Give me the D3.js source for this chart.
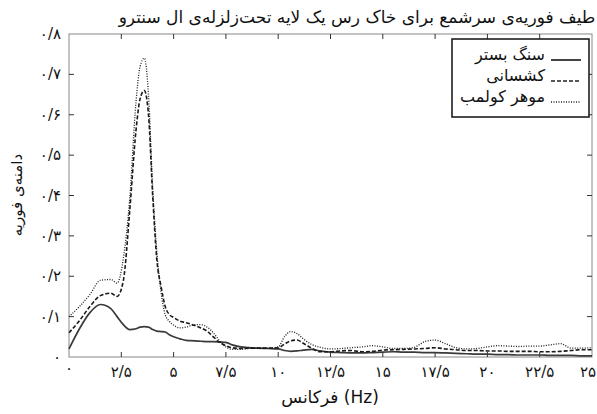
<!DOCTYPE html>
<html>
<head>
<meta charset="utf-8">
<script src="https://cdn.jsdelivr.net/npm/d3@7"></script>
<style>
  html, body { margin: 0; padding: 0; background: #fff; }
  svg { display: block; }
  .fa { font-family: "DejaVu Sans", sans-serif; }
</style>
</head>
<body>
<svg id="chart" width="597" height="414"></svg>
<script>
// Frequency samples (Hz)
const freq = [0, 0.5, 1, 1.5, 2, 2.3, 2.6, 2.9, 3.2, 3.4, 3.6, 3.8, 4.0, 4.2, 4.4, 4.6, 4.8, 5.0,
  5.3, 5.6, 6.0, 6.3, 6.6, 6.9, 7.2, 7.5, 7.8, 8.2, 8.6, 9, 9.5, 10, 10.3, 10.6, 10.9, 11.2, 11.6,
  12, 12.5, 13, 13.5, 14, 14.5, 15, 15.5, 16, 16.5, 17, 17.5, 18, 18.5, 19, 19.5, 20, 20.5, 21,
  21.5, 22, 22.5, 23, 23.5, 24, 24.5, 25];

// Fourier amplitude: bedrock
const bedrock = [0.02, 0.07, 0.11, 0.13, 0.12, 0.10, 0.08, 0.068, 0.07, 0.074, 0.075, 0.074, 0.068,
  0.064, 0.063, 0.062, 0.055, 0.05, 0.045, 0.041, 0.04, 0.039, 0.038, 0.038, 0.037, 0.036, 0.03,
  0.025, 0.023, 0.022, 0.021, 0.02, 0.016, 0.014, 0.015, 0.017, 0.019, 0.015, 0.012, 0.011, 0.01,
  0.01, 0.011, 0.012, 0.013, 0.012, 0.012, 0.011, 0.011, 0.01, 0.009, 0.008, 0.007, 0.007, 0.006,
  0.006, 0.005, 0.005, 0.005, 0.004, 0.004, 0.004, 0.003, 0.003];

// Fourier amplitude: elastic model
const elastic = [0.06, 0.09, 0.125, 0.152, 0.158, 0.15, 0.19, 0.36, 0.56, 0.64, 0.66, 0.6, 0.40,
  0.24, 0.175, 0.125, 0.105, 0.098, 0.089, 0.085, 0.078, 0.072, 0.064, 0.05, 0.036, 0.028, 0.023,
  0.021, 0.022, 0.022, 0.022, 0.023, 0.032, 0.04, 0.042, 0.034, 0.022, 0.013, 0.013, 0.015, 0.016,
  0.013, 0.014, 0.017, 0.018, 0.019, 0.02, 0.021, 0.023, 0.02, 0.018, 0.016, 0.016, 0.015, 0.015,
  0.014, 0.014, 0.014, 0.013, 0.013, 0.014, 0.016, 0.018, 0.018];

// Fourier amplitude: Mohr-Coulomb model
const mohr = [0.10, 0.125, 0.155, 0.19, 0.192, 0.183, 0.245, 0.39, 0.63, 0.72, 0.74, 0.65, 0.42,
  0.26, 0.16, 0.105, 0.088, 0.079, 0.072, 0.074, 0.08, 0.08, 0.074, 0.06, 0.04, 0.025, 0.019,
  0.019, 0.021, 0.022, 0.022, 0.025, 0.05, 0.063, 0.058, 0.045, 0.031, 0.024, 0.02, 0.021, 0.023,
  0.025, 0.028, 0.025, 0.021, 0.021, 0.024, 0.038, 0.042, 0.033, 0.023, 0.02, 0.021, 0.025, 0.028,
  0.027, 0.026, 0.027, 0.027, 0.03, 0.033, 0.022, 0.022, 0.023];

const seriesNames = ["سنگ بستر", "کشسانی", "موهر کولمب"];
const xTicks = [0, 2.5, 5, 7.5, 10, 12.5, 15, 17.5, 20, 22.5, 25];
const yTicks = [0, 0.1, 0.2, 0.3, 0.4, 0.5, 0.6, 0.7, 0.8];

const titleText = "طیف فوریه‌ی سرشمع برای خاک رس یک لایه تحت‌زلزله‌ی ال سنترو";
const xLabelText = "فرکانس (Hz)";
const yLabelText = "دامنه‌ی فوریه";

// Persian digits with "/" as decimal separator
const faDigits = "۰۱۲۳۴۵۶۷۸۹";
const toFa = v => String(+v.toFixed(2)).replace(".", "/").replace(/[0-9]/g, d => faDigits[d]);

const svg = d3.select("#chart");
const plotL = 69, plotR = 592, plotT = 34, plotB = 357;

const x = d3.scaleLinear().domain([0, 25]).range([plotL, plotR]);
const y = d3.scaleLinear().domain([0, 0.8]).range([plotB, plotT]);

// Frame
svg.append("rect")
  .attr("x", plotL).attr("y", plotT)
  .attr("width", plotR - plotL).attr("height", plotB - plotT)
  .attr("fill", "none").attr("stroke", "#888").attr("stroke-width", 1);

// Inward ticks on all four sides
const tl = 5;
const tickG = svg.append("g").attr("stroke", "#333").attr("stroke-width", 1);
xTicks.slice(1, -1).forEach(t => {
  tickG.append("line").attr("x1", x(t)).attr("x2", x(t)).attr("y1", plotB).attr("y2", plotB - tl);
  tickG.append("line").attr("x1", x(t)).attr("x2", x(t)).attr("y1", plotT).attr("y2", plotT + tl);
});
yTicks.slice(1, -1).forEach(t => {
  tickG.append("line").attr("x1", plotL).attr("x2", plotL + tl).attr("y1", y(t)).attr("y2", y(t));
  tickG.append("line").attr("x1", plotR).attr("x2", plotR - tl).attr("y1", y(t)).attr("y2", y(t));
});

// Tick labels (last one kept inside the page edge)
svg.append("g").attr("class", "fa").selectAll("text").data(xTicks).join("text")
  .attr("x", d => d === 25 ? 596 : x(d)).attr("y", d => d === 0 ? 373 : 377)
  .attr("text-anchor", d => d === 25 ? "end" : "middle").attr("direction", "ltr")
  .attr("font-size", 15).attr("fill", "#111")
  .text(d => toFa(d));

svg.append("g").attr("class", "fa").selectAll("text").data(yTicks).join("text")
  .attr("x", 61).attr("y", d => y(d) + 5)
  .attr("text-anchor", "end").attr("direction", "ltr")
  .attr("font-size", 15).attr("fill", "#111")
  .text(d => toFa(d));

// Curves
const line = d3.line().x((d, i) => x(freq[i])).y(d => y(d)).curve(d3.curveMonotoneX);
const styles = [
  { data: bedrock, dash: null, width: 1.7, color: "#3a3a3a" },
  { data: elastic, dash: "4,2", width: 1.6, color: "#1a1a1a" },
  { data: mohr, dash: "1,1.5", width: 1.3, color: "#1a1a1a" }
];
const plot = svg.append("g");
styles.forEach(s => {
  plot.append("path").attr("d", line(s.data))
    .attr("fill", "none").attr("stroke", s.color)
    .attr("stroke-width", s.width)
    .attr("stroke-dasharray", s.dash);
});

// Legend
const lg = svg.append("g");
lg.append("rect").attr("x", 452).attr("y", 39).attr("width", 137).attr("height", 78)
  .attr("fill", "#fff").attr("stroke", "#111").attr("stroke-width", 1.5);
styles.forEach((s, i) => {
  const ly = 57 + i * 21;
  lg.append("line").attr("x1", 551).attr("x2", 581).attr("y1", ly + 3).attr("y2", ly + 3)
    .attr("stroke", "#222").attr("stroke-width", s.width).attr("stroke-dasharray", s.dash);
  lg.append("text").attr("class", "fa").attr("x", 545).attr("y", ly + 3)
    .attr("text-anchor", "end").attr("font-size", 16).attr("fill", "#111")
    .text(seriesNames[i]);
});

// Title and axis labels
svg.append("text").attr("class", "fa").attr("x", 357).attr("y", 23)
  .attr("text-anchor", "middle").attr("font-size", 17).attr("fill", "#111")
  .text(titleText);

svg.append("text").attr("class", "fa").attr("x", 330).attr("y", 403)
  .attr("text-anchor", "middle").attr("font-size", 17).attr("fill", "#111")
  .text(xLabelText);

svg.append("text").attr("class", "fa")
  .attr("transform", "translate(22,195) rotate(-90)")
  .attr("text-anchor", "middle").attr("font-size", 15).attr("fill", "#111")
  .text(yLabelText);
</script>
</body>
</html>
